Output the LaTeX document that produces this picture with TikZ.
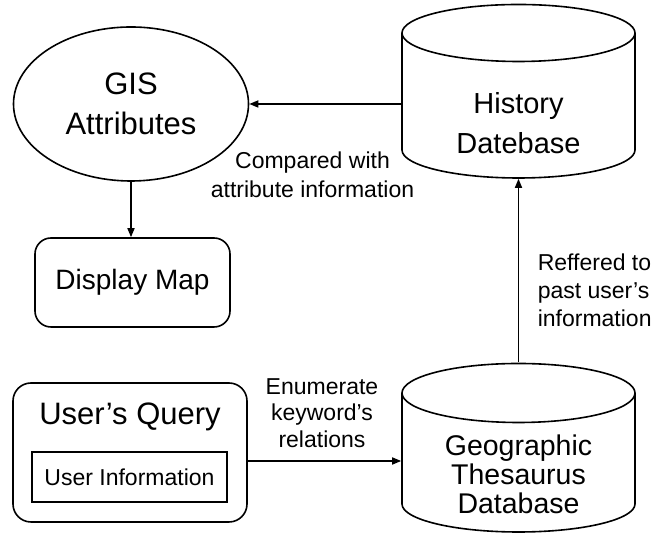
\documentclass[tikz,border=0pt]{standalone}
\usepackage{fontspec}
\setmainfont{Liberation Sans}
\usetikzlibrary{arrows.meta,shapes.geometric}
\begin{document}
\begin{tikzpicture}[x=1pt,y=1pt,line width=1.6pt,
  big/.style={font=\fontsize{28}{40}\selectfont, align=center},
  lbl/.style={font=\fontsize{23}{28}\selectfont, align=center, inner sep=0pt},
  arr/.style={-{Triangle[length=9pt,width=7pt]}},
  rbox/.style={draw, rounded corners=16pt, inner sep=0pt},
  ghost/.style={inner sep=0pt, minimum width=233pt}]
\useasboundingbox (0,0) rectangle (662,534);

% GIS ellipse
\node[draw, ellipse, minimum width=235pt, minimum height=154pt, inner sep=0pt, big, font=\fontsize{31}{40}\selectfont] (gis) at (131,430) {GIS\\Attributes};

% History cylinder
\draw (518.5,501) ellipse [x radius=116.5, y radius=28.5];
\draw (402,501) -- (402,384) arc[start angle=180, end angle=360, x radius=116.5, y radius=28] -- (635,501);
\node[ghost, minimum height=173pt] (hist) at (518.5,442.5) {};
\node[big, font=\fontsize{29}{40}\selectfont] (histtxt) at (518.5,411) {History\\Datebase};

% Geographic cylinder
\draw (518.5,141) ellipse [x radius=116.5, y radius=29.5];
\draw (402,141) -- (402,30) arc[start angle=180, end angle=360, x radius=116.5, y radius=28] -- (635,141);
\node[ghost, minimum height=169pt] (geo) at (518.5,86.5) {};
\node[big, font=\fontsize{28.5}{29}\selectfont] (geotxt) at (518.5,60) {Geographic\\Thesaurus\\Database};

% Display Map
\node[rbox, minimum width=195pt, minimum height=89pt, big] (dm) at (132.5,251.5) {Display Map};

% User's Query
\node[rbox, rounded corners=18pt, minimum width=234pt, minimum height=139pt] (uq) at (130,81.5) {};
\node[big, font=\fontsize{31}{40}\selectfont] (uqtxt) at (130,117) {User’s Query};
\node[draw, minimum width=195pt, minimum height=50pt, inner sep=0pt, font=\fontsize{23}{28}\selectfont] (ui) at (129.5,57) {User Information};

% connectors
\draw[arr] (gis.east -| hist.west) -- (gis.east);
\draw[arr] (gis.south) -- (gis.south |- dm.north);
\draw[arr] (geo.north) -- (hist.south);
\draw[arr] ([yshift=-8.5pt]uq.east) -- ([yshift=-8.5pt]uq.east -| geo.west);

% labels
\node[lbl, font=\fontsize{23}{29}\selectfont] (l1) at (312.5,359) {Compared with\\attribute information};
\node[lbl, font=\fontsize{23}{26.5}\selectfont] (l2) at (322,121) {Enumerate\\keyword’s\\relations};
\node[lbl, align=left, anchor=west] (l3) at (537,244) {Reffered to\\past user’s\\information};
\end{tikzpicture}
\end{document}
